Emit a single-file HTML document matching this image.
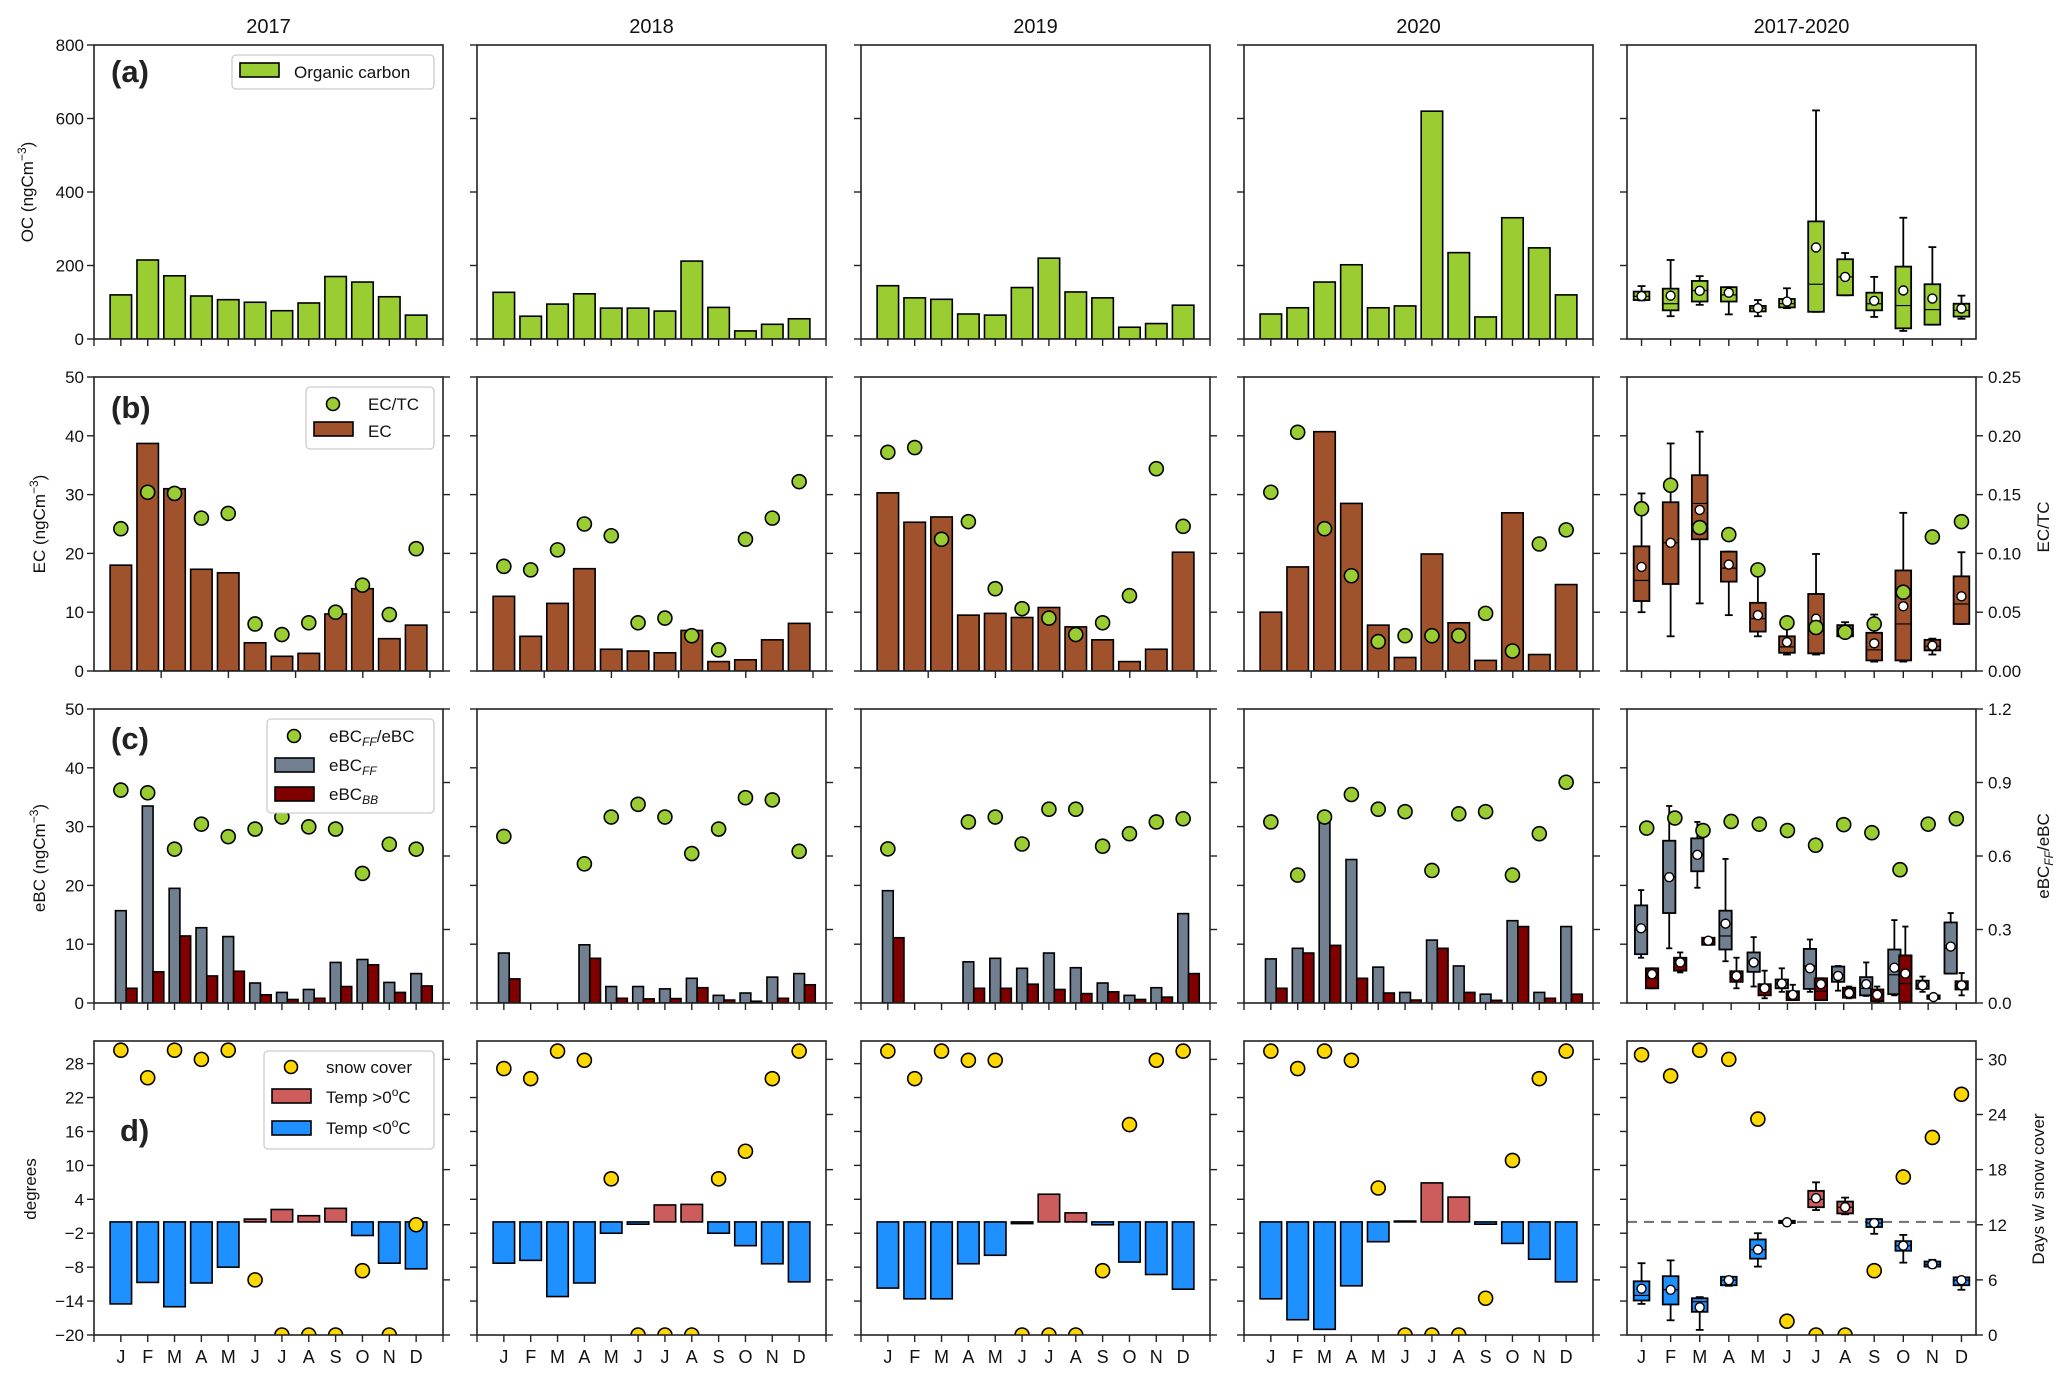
<!DOCTYPE html>
<html><head><meta charset="utf-8"><title>Carbon panels</title>
<style>
html,body{margin:0;padding:0;background:#fff;}
svg{display:block;font-family:"Liberation Sans",Arial,sans-serif;}
</style></head>
<body>
<svg id="chart" width="2067" height="1380" viewBox="0 0 2067 1380" xmlns="http://www.w3.org/2000/svg"></svg>
<script>
// ---------- data ----------
const months=['J','F','M','A','M','J','J','A','S','O','N','D'];
const yearLabels=['2017','2018','2019','2020','2017-2020'];
// (a) organic carbon
const oc2017=[120,215,172,117,107,100,77,98,170,155,115,65];
const oc2018=[127,62,95,123,84,84,76,212,86,22,40,55];
const oc2019=[145,112,108,68,65,140,220,128,112,32,42,92];
const oc2020=[68,85,155,202,85,90,620,235,60,330,248,120];
const ocBoxMin=[105,62,93,67,62,84,74,119,60,22,39,55];
const ocBoxQ1=[106,78,102,102,75,86,74,119,78,29,39,61];
const ocBoxMed=[116,96,132,120,84,96,149,169,96,91,80,78];
const ocBoxQ3=[129,137,158,141,90,109,320,217,126,197,149,96];
const ocBoxMax=[144,215,171,141,106,138,622,234,169,330,250,118];
const ocBoxMean=[117,118,131,126,84,102,249,169,104,132,110,83];
// (b) elemental carbon and EC/TC
const ec2017=[18,38.7,31,17.3,16.7,4.8,2.5,3,9.7,14,5.5,7.8];
const ec2018=[12.7,5.9,11.5,17.4,3.7,3.4,3.1,6.9,1.6,1.9,5.3,8.1];
const ec2019=[30.3,25.3,26.2,9.5,9.8,9.1,10.8,7.5,5.3,1.6,3.7,20.2];
const ec2020=[10,17.7,40.7,28.5,7.8,2.3,19.9,8.2,1.8,26.9,2.8,14.7];
const ectc2017=[0.121,0.152,0.151,0.130,0.134,0.040,0.031,0.041,0.050,0.073,0.048,0.104];
const ectc2018=[0.089,0.086,0.103,0.125,0.115,0.041,0.045,0.030,0.018,0.112,0.130,0.161];
const ectc2019=[0.186,0.190,0.112,0.127,0.070,0.053,0.045,0.031,0.041,0.064,0.172,0.123];
const ectc2020=[0.152,0.203,0.121,0.081,0.025,0.030,0.030,0.030,0.049,0.017,0.108,0.120];
const ecBoxMin=[10.0,5.9,11.5,9.5,5.9,2.8,2.8,5.9,1.6,1.6,2.8,8.0];
const ecBoxQ1=[11.9,14.8,22.4,15.2,6.7,3.1,3.0,5.9,1.8,1.8,3.5,8.0];
const ecBoxMed=[15.4,21.8,28.5,17.5,8.9,4.1,7.5,6.7,3.6,8.0,4.2,11.4];
const ecBoxQ3=[21.2,28.7,33.3,20.3,11.6,5.9,13.1,7.8,6.5,17.1,5.3,16.1];
const ecBoxMax=[30.2,38.7,40.7,20.3,16.5,7.9,19.9,8.3,9.6,26.9,5.5,20.2];
const ecBoxMean=[17.7,21.8,27.4,18.1,9.5,4.9,8.9,6.7,4.7,11.0,4.3,12.7];
const ectcAll=[0.138,0.158,0.122,0.116,0.086,0.041,0.037,0.033,0.040,0.067,0.114,0.127];
// (c) eBC fossil fuel / biomass burning
const ff2017=[15.7,33.5,19.5,12.8,11.3,3.4,1.8,2.3,6.9,7.4,3.5,5.0];
const ff2018=[8.5,null,null,9.9,2.8,2.8,2.4,4.2,1.3,1.7,4.4,5.0];
const ff2019=[19.1,null,null,7.0,7.6,5.9,8.5,6.0,3.4,1.3,2.6,15.2];
const ff2020=[7.5,9.3,31.4,24.4,6.1,1.8,10.7,6.3,1.5,14.0,1.8,13.0];
const bb2017=[2.5,5.3,11.4,4.6,5.4,1.4,0.6,0.8,2.8,6.5,1.8,2.9];
const bb2018=[4.1,null,null,7.6,0.8,0.7,0.75,2.6,0.5,0.3,0.8,3.1];
const bb2019=[11.1,null,null,2.5,2.5,3.2,2.3,1.6,1.9,0.6,1.0,5.0];
const bb2020=[2.5,8.5,9.8,4.2,1.7,0.5,9.3,1.8,0.45,13.0,0.8,1.5];
const ffr2017=[0.869,0.858,0.628,0.730,0.679,0.710,0.759,0.719,0.710,0.529,0.648,0.628];
const ffr2018=[0.680,null,null,0.568,0.759,0.811,0.759,0.610,0.710,0.838,0.829,0.619];
const ffr2019=[0.629,null,null,0.739,0.759,0.649,0.791,0.791,0.640,0.691,0.739,0.752];
const ffr2020=[0.739,0.522,0.759,0.851,0.791,0.781,0.541,0.772,0.781,0.522,0.691,0.901];
const ffBoxMin=[7.7,9.3,19.6,7.1,2.8,1.9,1.9,2.1,1.2,1.3,1.9,5.0];
const ffBoxQ1=[8.3,15.3,22.4,9.1,5.3,2.5,2.4,3.6,1.3,1.5,2.4,5.0];
const ffBoxMed=[12.4,21.5,25.3,11.4,7.1,3.3,6.3,4.8,2.5,4.8,3.0,9.3];
const ffBoxQ3=[16.6,27.6,28.0,15.7,8.6,4.0,9.2,6.2,4.4,9.1,3.8,13.7];
const ffBoxMax=[19.2,33.5,30.8,24.5,11.2,5.9,10.8,6.3,6.9,14.1,4.5,15.3];
const ffBoxMean=[12.7,21.4,25.2,13.5,6.9,3.3,5.9,4.6,3.2,6.0,3.0,9.6];
const bbBoxMin=[2.5,5.2,9.9,2.5,0.8,0.5,0.5,0.8,0.2,0.1,0.7,1.3];
const bbBoxQ1=[2.5,5.5,9.9,3.6,1.3,0.5,0.5,0.9,0.3,0.1,0.7,2.3];
const bbBoxMed=[4.2,6.7,10.6,4.4,2.4,1.4,2.0,1.7,1.4,3.3,1.0,3.0];
const bbBoxQ3=[5.9,7.7,11.1,5.4,3.2,2.0,4.2,2.6,2.3,8.1,1.3,3.7];
const bbBoxMax=[5.9,8.6,11.1,7.7,5.5,3.1,4.2,2.8,2.8,13.0,1.3,5.1];
const bbBoxMean=[4.9,6.9,10.6,4.6,2.5,1.4,3.2,1.7,1.4,5.0,1.0,3.0];
const ffrAll=[0.714,0.755,0.704,0.741,0.730,0.704,0.644,0.728,0.695,0.544,0.730,0.752];
// (d) temperature and snow cover
const temp2017=[-14.5,-10.7,-15.0,-10.8,-8.0,0.5,2.2,1.1,2.4,-2.4,-7.3,-8.3];
const temp2018=[-7.3,-6.8,-13.2,-10.8,-2.0,-0.4,3.0,3.1,-2.0,-4.2,-7.4,-10.6];
const temp2019=[-11.7,-13.6,-13.6,-7.4,-5.9,-0.3,4.9,1.6,-0.5,-7.1,-9.3,-11.9];
const temp2020=[-13.6,-17.3,-19.0,-11.3,-3.5,0.15,6.9,4.4,-0.4,-3.8,-6.6,-10.6];
const snow2017=[31,28,31,30,31,6,0,0,0,7,0,12];
const snow2018=[29,27.9,30.9,29.9,17,0,0,0,17,20,27.9,30.9];
const snow2019=[30.9,27.9,30.9,29.9,29.9,0,0,0,7,22.9,29.9,30.9];
const snow2020=[30.9,29,30.9,29.9,16,0,0,0,4,19,27.9,30.9];
const tempBoxMin=[-14.5,-17.4,-19.1,-11.3,-7.9,-0.4,2.1,1.35,-2.1,-7.2,-8.1,-12.0];
const tempBoxQ1=[-13.9,-14.6,-15.9,-11.2,-6.5,-0.2,2.6,1.5,-0.9,-5.1,-7.9,-11.2];
const tempBoxMed=[-13.0,-12.0,-14.1,-10.3,-4.9,0.0,4.0,2.6,-0.2,-4.2,-7.5,-10.3];
const tempBoxQ3=[-10.5,-9.6,-13.5,-9.7,-3.1,0.2,5.5,3.6,0.5,-3.4,-7.0,-9.8];
const tempBoxMax=[-7.3,-6.8,-13.3,-9.7,-2.0,0.3,7.0,4.3,0.5,-2.3,-6.7,-9.8];
const tempBoxMean=[-11.8,-12.0,-15.1,-10.3,-4.9,-0.06,4.2,2.6,-0.2,-4.2,-7.5,-10.3];
const snowAll=[30.5,28.2,31,30,23.5,1.5,0,0,7,17.2,21.5,26.2];
const ocTicks=[0,200,400,600,800];
const ecTicks=[0,10,20,30,40,50];
const ectcTicks=[0,0.05,0.10,0.15,0.20,0.25];
const ebcTicks=[0,10,20,30,40,50];
const ffrTicks=[0,0.3,0.6,0.9,1.2];
const degTicks=[-20,-14,-8,-2,4,10,16,22,28];
const dayTicks=[0,6,12,18,24,30];

// ---------- layout ----------
const NS='http://www.w3.org/2000/svg';
const svg=document.getElementById('chart');
const LEFTS=[94,477,861,1244,1627], W=349;
const TOPS=[45,377,709,1041], H=294;
const YR=[[0,800],[0,50],[0,50],[-20,32]];
const Y2=[null,[0,0.25],[0,1.2],[0,32]];
const GREEN='#9acd32',SIENNA='#a0522d',SLATE='#708090',MAROON='#800000',RED='#cd5c5c',BLUE='#1e90ff',GOLD='#ffd700';

function el(tag,attrs,parent){const e=document.createElementNS(NS,tag);for(const k in attrs)e.setAttribute(k,attrs[k]);(parent||svg).appendChild(e);return e;}
function xOf(c,r,i){
  if(c<4) return LEFTS[c]+(i+1)*W/13;
  if(r===2) return LEFTS[c]+(i+0.7)*W/12.4;
  return LEFTS[c]+(i+0.5)*W/12;
}
function unit(c,r){return c<4?W/13:(r===2?W/12.4:W/12);}
function yOf(r,v){const [lo,hi]=YR[r];return TOPS[r]+H*(1-(v-lo)/(hi-lo));}
function y2Of(r,v){const [lo,hi]=Y2[r];return TOPS[r]+H*(1-(v-lo)/(hi-lo));}
function txt(x,y,s,attrs,parent){const t=el('text',Object.assign({x:x,y:y},attrs||{}),parent);t.textContent=s;return t;}
function fmt(v){return v<0?'\u2212'+Math.abs(v):String(v);}

const defs=el('defs',{});
for(let r=0;r<4;r++)for(let c=0;c<5;c++){
  const cp=el('clipPath',{id:'clip'+r+c},defs);
  el('rect',{x:LEFTS[c],y:TOPS[r],width:W,height:H},cp);
}

for(let c=0;c<5;c++){
  const t=txt(LEFTS[c]+W/2,33,yearLabels[c],{'font-size':20,'text-anchor':'middle',fill:'#111'});
  
  
}

function barRect(g,x0,x1,v0,v1,r,fill,name){
  const ya=yOf(r,v0),yb=yOf(r,v1);
  const rc=el('rect',{x:Math.min(x0,x1),y:Math.min(ya,yb),width:Math.abs(x1-x0),height:Math.max(Math.abs(yb-ya),0.8),fill:fill,stroke:'#000','stroke-width':1.6},g);
  
  
  return rc;
}
function dot(g,cx,cy,fill,name,rad){
  const ci=el('circle',{cx:cx,cy:cy,r:rad||7,fill:fill,stroke:'#000','stroke-width':1.6},g);
  
  
}
function boxPlot(g,r,cx,hw,mn,q1,md,q3,mx,mean,fill,name){
  const bg=el('g',{},g);
  
  
  const st={stroke:'#000','stroke-width':1.8,fill:'none'};
  el('line',Object.assign({x1:cx,x2:cx,y1:yOf(r,mx),y2:yOf(r,q3)},st),bg);
  el('line',Object.assign({x1:cx,x2:cx,y1:yOf(r,q1),y2:yOf(r,mn)},st),bg);
  el('line',Object.assign({x1:cx-hw/2,x2:cx+hw/2,y1:yOf(r,mx),y2:yOf(r,mx)},st),bg);
  el('line',Object.assign({x1:cx-hw/2,x2:cx+hw/2,y1:yOf(r,mn),y2:yOf(r,mn)},st),bg);
  const yt=yOf(r,q3),yb=yOf(r,q1);
  el('rect',{x:cx-hw,y:yt,width:2*hw,height:Math.max(yb-yt,2),fill:fill,stroke:'#000','stroke-width':1.8},bg);
  el('line',{x1:cx-hw,x2:cx+hw,y1:yOf(r,md),y2:yOf(r,md),stroke:'#000','stroke-width':1.2},bg);
  el('circle',{cx:cx,cy:yOf(r,mean),r:4.5,fill:'#fff',stroke:'#000','stroke-width':1.4},bg);
}

const ocYears=[oc2017,oc2018,oc2019,oc2020];
const ecYears=[ec2017,ec2018,ec2019,ec2020];
const ectcYears=[ectc2017,ectc2018,ectc2019,ectc2020];
const ffYears=[ff2017,ff2018,ff2019,ff2020];
const bbYears=[bb2017,bb2018,bb2019,bb2020];
const ffrYears=[ffr2017,ffr2018,ffr2019,ffr2020];
const tempYears=[temp2017,temp2018,temp2019,temp2020];
const snowYears=[snow2017,snow2018,snow2019,snow2020];
const rowNames=['oc','ec','ebc','temp'];

for(let r=0;r<4;r++){
  for(let c=0;c<5;c++){
    const L=LEFTS[c],T=TOPS[r],u=unit(c,r);
    const pg=el('g',{});
    
    
    const g=el('g',{'clip-path':'url(#clip'+r+c+')'},pg);
    if(c===4&&r===3){
      const zl=el('line',{x1:L,x2:L+W,y1:yOf(3,0),y2:yOf(3,0),stroke:'#777','stroke-width':2.2,'stroke-dasharray':'10,7'},g);
      
      
    }
    for(let i=0;i<12;i++){
      const x=xOf(c,r,i);
      if(c<4){
        if(r===0){barRect(g,x-0.4*u,x+0.4*u,0,ocYears[c][i],0,GREEN,'oc-bar');}
        if(r===1){barRect(g,x-0.4*u,x+0.4*u,0,ecYears[c][i],1,SIENNA,'ec-bar');}
        if(r===2){
          if(ffYears[c][i]!=null)barRect(g,x-0.2*u,x+0.2*u,0,ffYears[c][i],2,SLATE,'ebc-ff-bar');
          if(bbYears[c][i]!=null)barRect(g,x+0.2*u,x+0.6*u,0,bbYears[c][i],2,MAROON,'ebc-bb-bar');
        }
        if(r===3){const v=tempYears[c][i];barRect(g,x-0.4*u,x+0.4*u,0,v,3,v>0?RED:BLUE,'temp-bar');}
      } else {
        const hw=0.27*u;
        if(r===0)boxPlot(g,0,x,hw,ocBoxMin[i],ocBoxQ1[i],ocBoxMed[i],ocBoxQ3[i],ocBoxMax[i],ocBoxMean[i],GREEN,'oc-box');
        if(r===1)boxPlot(g,1,x,hw,ecBoxMin[i],ecBoxQ1[i],ecBoxMed[i],ecBoxQ3[i],ecBoxMax[i],ecBoxMean[i],SIENNA,'ec-box');
        if(r===2){
          boxPlot(g,2,x-0.2*u,0.22*u,ffBoxMin[i],ffBoxQ1[i],ffBoxMed[i],ffBoxQ3[i],ffBoxMax[i],ffBoxMean[i],SLATE,'ebc-ff-box');
          boxPlot(g,2,x+0.19*u,0.22*u,bbBoxMin[i],bbBoxQ1[i],bbBoxMed[i],bbBoxQ3[i],bbBoxMax[i],bbBoxMean[i],MAROON,'ebc-bb-box');
        }
        if(r===3)boxPlot(g,3,x,hw,tempBoxMin[i],tempBoxQ1[i],tempBoxMed[i],tempBoxQ3[i],tempBoxMax[i],tempBoxMean[i],tempBoxMed[i]>0?RED:BLUE,'temp-box');
      }
    }
    for(let i=0;i<12;i++){
      const x=xOf(c,r,i);
      if(r===1){const v=c<4?ectcYears[c][i]:ectcAll[i];dot(g,x,y2Of(1,v),GREEN,'ectc-point');}
      if(r===2){const v=c<4?ffrYears[c][i]:ffrAll[i];if(v!=null)dot(g,x,y2Of(2,v),GREEN,'ff-ratio-point');}
      if(r===3){const v=c<4?snowYears[c][i]:snowAll[i];dot(g,x,y2Of(3,v),GOLD,'snow-cover-point');}
    }
    const fr=el('rect',{x:L,y:T,width:W,height:H,fill:'none',stroke:'#222','stroke-width':1.6},pg);
    
    
    const lt=[ocTicks,ecTicks,ebcTicks,degTicks][r];
    for(const v of lt){
      const y=yOf(r,v);
      el('line',{x1:L-7,x2:L,y1:y,y2:y,stroke:'#222','stroke-width':1.4},pg);
      if(c===0){const t=txt(L-10,y+6,fmt(v),{'font-size':17,'text-anchor':'end',fill:'#111'},pg);
        }
    }
    if(r>0){
      const rt=[null,ectcTicks,ffrTicks,dayTicks][r];
      for(const v of rt){
        const y=y2Of(r,v);
        el('line',{x1:L+W,x2:L+W+7,y1:y,y2:y,stroke:'#222','stroke-width':1.4},pg);
        if(c===4){
          const s=r===1?v.toFixed(2):(r===2?v.toFixed(1):String(v));
          const t=txt(L+W+12,y+6,s,{'font-size':17,fill:'#111'},pg);
          
        }
      }
    }
    const B=T+H;
    if(c<4&&r===1){
      for(let k=1;k<=5;k++){const x=L+k*67.2;el('line',{x1:x,x2:x,y1:B,y2:B+7,stroke:'#222','stroke-width':1.4},pg);}
    } else {
      const xs=[];
      for(let i=0;i<12;i++)xs.push(xOf(c,r,i));
      if(c<4){xs.push(L);xs.push(L+W);}
      for(const x of xs)el('line',{x1:x,x2:x,y1:B,y2:B+7,stroke:'#222','stroke-width':1.4},pg);
    }
    if(r===3){
      for(let i=0;i<12;i++){
        const t=txt(xOf(c,r,i),B+28,months[i],{'font-size':18,'text-anchor':'middle',fill:'#111'},pg);
        
      }
    }
  }
}

function vtitle(x,y,html,name){
  const t=el('text',{x:0,y:0,transform:'translate('+x+','+y+') rotate(-90)','font-size':17,'text-anchor':'middle',fill:'#111'});
  t.innerHTML=html;
  
  
}
vtitle(33,192,'OC (ngCm<tspan dy="-7" font-size="12">\u22123</tspan><tspan dy="7">)</tspan>','y-axis-title-oc');
vtitle(45,524,'EC (ngCm<tspan dy="-7" font-size="12">\u22123</tspan><tspan dy="7">)</tspan>','y-axis-title-ec');
vtitle(45,858,'eBC (ngCm<tspan dy="-7" font-size="12">\u22123</tspan><tspan dy="7">)</tspan>','y-axis-title-ebc');
vtitle(36,1189,'degrees','y-axis-title-degrees');
vtitle(2049,527,'EC/TC','y2-axis-title-ectc');
vtitle(2049,856,'eBC<tspan font-size="12" font-style="italic" dy="4">FF</tspan><tspan dy="-4">/eBC</tspan>','y2-axis-title-ff-ratio');
vtitle(2044,1189,'Days w/ snow cover','y2-axis-title-snow');

[['(a)',111,82],['(b)',111,418],['(c)',111,749],['d)',120,1141]].forEach((p,k)=>{
  const t=txt(p[1],p[2],p[0],{'font-size':31,'font-weight':'bold',fill:'#222'});
  
});

function legendBox(x,y,w,h,name){
  const g=el('g',{});
  
  
  el('rect',{x:x,y:y,width:w,height:h,rx:4,fill:'#fff',stroke:'#ccc','stroke-width':1.3},g);
  return g;
}
function patch(g,x,y,fill){el('rect',{x:x,y:y,width:39,height:14,fill:fill,stroke:'#000','stroke-width':1.6},g);}
let lg=legendBox(232,55,202,34,'legend-oc');
patch(lg,240,63,GREEN);txt(294,78,'Organic carbon',{'font-size':17,fill:'#111'},lg);
lg=legendBox(306,387,128,62,'legend-ec');
dot(lg,333,404,GREEN,'legend-ectc-marker',6.5);txt(368,410,'EC/TC',{'font-size':17,fill:'#111'},lg);
patch(lg,314,422,SIENNA);txt(368,437,'EC',{'font-size':17,fill:'#111'},lg);
lg=legendBox(267,719,167,94,'legend-ebc');
dot(lg,294,736,GREEN,'legend-ff-ratio-marker',6.5);
let tt=txt(329,742,'',{'font-size':17,fill:'#111'},lg);tt.innerHTML='eBC<tspan font-size="12" font-style="italic" dy="4">FF</tspan><tspan dy="-4">/eBC</tspan>';
patch(lg,275,758,SLATE);tt=txt(329,771,'',{'font-size':17,fill:'#111'},lg);tt.innerHTML='eBC<tspan font-size="12" font-style="italic" dy="4">FF</tspan>';
patch(lg,275,787,MAROON);tt=txt(329,800,'',{'font-size':17,fill:'#111'},lg);tt.innerHTML='eBC<tspan font-size="12" font-style="italic" dy="4">BB</tspan>';
lg=legendBox(264,1051,170,98,'legend-temp');
dot(lg,291,1067,GOLD,'legend-snow-marker',6.5);txt(326,1073,'snow cover',{'font-size':17,fill:'#111'},lg);
patch(lg,272,1089,RED);tt=txt(326,1103,'',{'font-size':17,fill:'#111'},lg);tt.innerHTML='Temp &gt;0<tspan font-size="12" dy="-7">o</tspan><tspan dy="7">C</tspan>';
patch(lg,272,1121,BLUE);tt=txt(326,1134,'',{'font-size':17,fill:'#111'},lg);tt.innerHTML='Temp &lt;0<tspan font-size="12" dy="-7">o</tspan><tspan dy="7">C</tspan>';
</script>
</body></html>
